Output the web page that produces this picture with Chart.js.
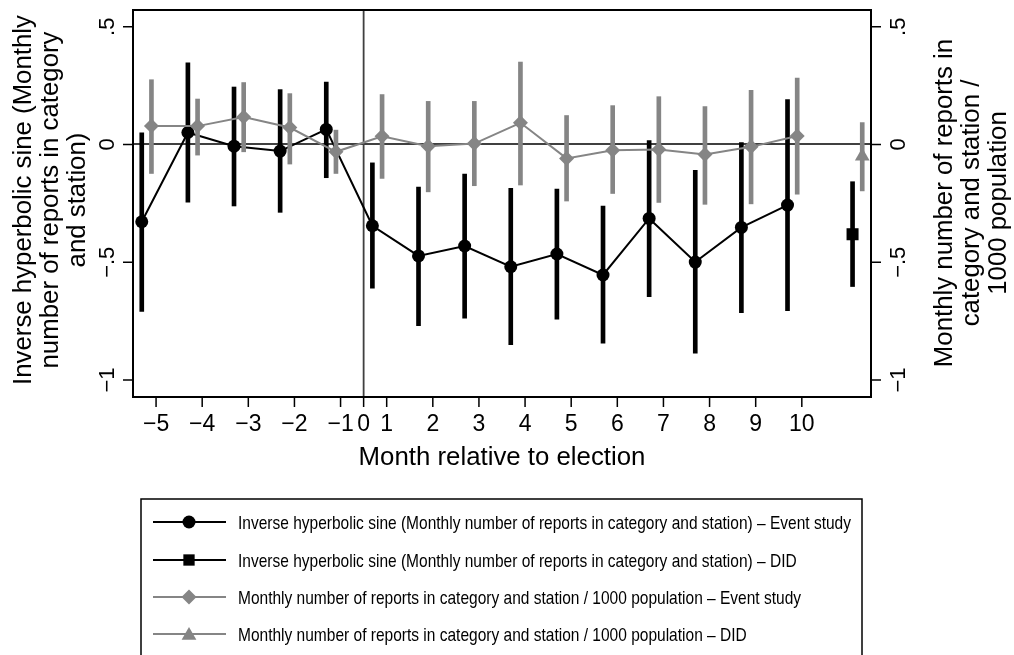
<!DOCTYPE html>
<html><head><meta charset="utf-8">
<script src="https://cdn.jsdelivr.net/npm/chart.js@4.4.1/dist/chart.umd.min.js"></script>
<style>html,body{margin:0;padding:0;background:#fff;overflow:hidden}#wrap{width:1014px;height:655px;position:relative}canvas{display:block}</style>
</head><body><div id="wrap"><canvas id="c" width="1014" height="655"></canvas></div>
<script>
// ---------------- data ----------------
const months = ['−5','−4','−3','−2','−1','1','2','3','4','5','6','7','8','9','10'];
const xTickValues = [1,2,3,4,5,5.5,6,7,8,9,10,11,12,13,14,15];
const xTickLabels = ['−5','−4','−3','−2','−1','0','1','2','3','4','5','6','7','8','9','10'];
const yTickValues = [-1,-0.5,0,0.5];
const yTickLabels = ['−1','−.5','0','.5'];

// Inverse hyperbolic sine – event study
const ihsCoef = [-0.328, 0.051, -0.007, -0.028, 0.064, -0.345, -0.473, -0.431, -0.519, -0.465, -0.554, -0.314, -0.499, -0.352, -0.257];
const ihsLo   = [-0.709,-0.245, -0.261, -0.288,-0.141, -0.610, -0.769, -0.737, -0.850, -0.742, -0.843, -0.646, -0.886, -0.714, -0.705];
const ihsHi   = [ 0.049, 0.347,  0.244,  0.233, 0.265, -0.078, -0.181, -0.126, -0.186, -0.189, -0.261,  0.017, -0.110,  0.008,  0.191];
// per 1000 population – event study
const popCoef = [ 0.079, 0.078,  0.117,  0.072,-0.031,  0.035, -0.007,  0.004,  0.092, -0.059, -0.024, -0.021, -0.042, -0.010,  0.036];
const popLo   = [-0.123,-0.045, -0.031, -0.083,-0.123, -0.144, -0.201, -0.175, -0.172, -0.240, -0.208, -0.246, -0.254, -0.252, -0.211];
const popHi   = [ 0.275, 0.193,  0.263,  0.216, 0.061,  0.212,  0.183,  0.183,  0.350,  0.123,  0.165,  0.203,  0.161,  0.230,  0.282];
// DID estimates [ihs, pop]
const didCoef = [-0.381, -0.050];
const didLo   = [-0.603, -0.197];
const didHi   = [-0.158,  0.093];

const legendLabels = [
  'Inverse hyperbolic sine (Monthly number of reports in category and station) – Event study',
  'Inverse hyperbolic sine (Monthly number of reports in category and station) – DID',
  'Monthly number of reports in category and station / 1000 population – Event study',
  'Monthly number of reports in category and station / 1000 population – DID'
];
const xTitle = 'Month relative to election';
const yTitle = ['Inverse hyperbolic sine (Monthly','number of reports in category','and station)'];
const y2Title = ['Monthly number of reports in','category and station /','1000 population'];

// ---------------- styling / layout ----------------
const FONT = '"Liberation Sans", Arial, Helvetica, sans-serif';
const BLACK = '#000000', GRAY = '#858585', REF = '#404040';
const OFF_IHS = -0.31, OFF_POP = -0.10;     // coefplot offsets
const DID_POS = 16, DID_OFF_IHS = 0.10, DID_OFF_POP = 0.31;
const REF_X = 5.5;
const AREA = {left:133, right:871, top:10, bottom:397};
const TICK_LEN = 10;

const ihsPts  = ihsCoef.map((v,i)=>({x:i+1+OFF_IHS, y:v}));
const ihsBars = ihsLo.map((lo,i)=>({x:i+1+OFF_IHS, y:[lo, ihsHi[i]]}));
const popPts  = popCoef.map((v,i)=>({x:i+1+OFF_POP, y:v}));
const popBars = popLo.map((lo,i)=>({x:i+1+OFF_POP, y:[lo, popHi[i]]}));

const setTicks = vals => (s => { s.ticks = vals.map(v=>({value:v})); });

const drawPlugin = {
  id:'stataLook',
  beforeDatasetsDraw(chart){
    const {ctx, chartArea:a, scales:{x,y}} = chart;
    ctx.save();
    ctx.strokeStyle = REF; ctx.lineWidth = 1.8;
    const py = Math.round(y.getPixelForValue(0));
    ctx.beginPath(); ctx.moveTo(a.left, py); ctx.lineTo(a.right, py); ctx.stroke();
    const px = x.getPixelForValue(REF_X);
    ctx.beginPath(); ctx.moveTo(px, a.top); ctx.lineTo(px, a.bottom); ctx.stroke();
    ctx.restore();
  },
  afterDraw(chart){
    const {ctx, chartArea:a, scales:{x,y,y2}} = chart;
    ctx.save();
    // frame
    ctx.strokeStyle = BLACK; ctx.lineWidth = 2;
    ctx.strokeRect(a.left, a.top, a.right-a.left, a.bottom-a.top);
    // tick marks
    ctx.lineWidth = 1.5;
    ctx.beginPath();
    xTickValues.forEach(v=>{ const p = x.getPixelForValue(v); ctx.moveTo(p, a.bottom); ctx.lineTo(p, a.bottom+TICK_LEN); });
    yTickValues.forEach(v=>{
      const p = y.getPixelForValue(v); ctx.moveTo(a.left, p); ctx.lineTo(a.left-TICK_LEN, p);
      const q = y2.getPixelForValue(v); ctx.moveTo(a.right, q); ctx.lineTo(a.right+TICK_LEN, q);
    });
    ctx.stroke();
    ctx.fillStyle = BLACK;
    // x tick labels
    ctx.font = '23px ' + FONT; ctx.textAlign='center'; ctx.textBaseline='alphabetic';
    xTickValues.forEach((v,i)=>ctx.fillText(xTickLabels[i], x.getPixelForValue(v), 431));
    // y tick labels (rotated)
    ctx.font = '22px ' + FONT;
    yTickValues.forEach((v,i)=>{
      [[y,114],[y2,905]].forEach(([sc,bx])=>{
        ctx.save(); ctx.translate(bx, sc.getPixelForValue(v)); ctx.rotate(-Math.PI/2);
        ctx.fillText(yTickLabels[i],0,0); ctx.restore();
      });
    });
    // titles
    ctx.font = '25.8px ' + FONT;
    ctx.fillText(xTitle, (a.left+a.right)/2, 465);
    yTitle.forEach((t,i)=>{ ctx.save(); ctx.translate(31+27*i, 200); ctx.rotate(-Math.PI/2); ctx.fillText(t,0,0); ctx.restore(); });
    y2Title.forEach((t,i)=>{ ctx.save(); ctx.translate(952+27*i, 203); ctx.rotate(-Math.PI/2); ctx.fillText(t,0,0); ctx.restore(); });
    // legend
    ctx.lineWidth = 1.5; ctx.strokeStyle = BLACK;
    ctx.strokeRect(141, 499, 721, 200);
    const rows = [522, 560, 597, 634];
    const styles = [
      {c:BLACK, ps:'circle', r:6.5},
      {c:BLACK, ps:'rect', r:8},
      {c:GRAY, ps:'rectRot', r:7.5},
      {c:GRAY, ps:'triangle', r:8.5}
    ];
    ctx.font = '19px ' + FONT; ctx.textAlign='left';
    const sx = 613 / ctx.measureText(legendLabels[0]).width;
    rows.forEach((ry,i)=>{
      const st = styles[i];
      ctx.strokeStyle = st.c; ctx.lineWidth = 2;
      ctx.beginPath(); ctx.moveTo(153, ry); ctx.lineTo(226, ry); ctx.stroke();
      ctx.fillStyle = st.c;
      Chart.helpers.drawPoint(ctx, {pointStyle:st.ps, radius:st.r, rotation:0, borderWidth:0}, 189, ry + (st.ps==='triangle'?1.5:0));
      ctx.fillStyle = BLACK;
      ctx.save(); ctx.translate(238, ry+7); ctx.scale(sx,1); ctx.fillText(legendLabels[i],0,0); ctx.restore();
    });
    ctx.restore();
  }
};

new Chart(document.getElementById('c'), {
  type:'line',
  data:{datasets:[
    {type:'bar', data:ihsBars, backgroundColor:BLACK, barThickness:4, grouped:false, order:6},
    {type:'line', data:ihsPts, borderColor:BLACK, borderWidth:2, pointStyle:'circle', pointRadius:6.5, pointBackgroundColor:BLACK, pointBorderWidth:0, order:5},
    {type:'bar', data:[{x:DID_POS+DID_OFF_IHS, y:[didLo[0], didHi[0]]}], backgroundColor:BLACK, barThickness:4, grouped:false, order:6},
    {type:'line', data:[{x:DID_POS+DID_OFF_IHS, y:didCoef[0]}], showLine:false, pointStyle:'rect', pointRadius:8.5, pointBackgroundColor:BLACK, pointBorderWidth:0, order:5},
    {type:'bar', data:popBars, backgroundColor:GRAY, barThickness:4, grouped:false, order:2},
    {type:'line', data:popPts, borderColor:GRAY, borderWidth:2, pointStyle:'rectRot', pointRadius:7.5, pointBackgroundColor:GRAY, pointBorderWidth:0, order:1},
    {type:'bar', data:[{x:DID_POS+DID_OFF_POP, y:[didLo[1], didHi[1]]}], backgroundColor:GRAY, barThickness:4, grouped:false, order:2},
    {type:'line', data:[{x:DID_POS+DID_OFF_POP, y:didCoef[1]}], showLine:false, pointStyle:'triangle', pointRadius:8.5, pointBackgroundColor:GRAY, pointBorderWidth:0, order:1}
  ]},
  options:{
    responsive:false, animation:false, events:[],
    layout:{padding:{top:AREA.top, left:0, right:0, bottom:0}},
    plugins:{legend:{display:false}, tooltip:{enabled:false}},
    scales:{
      x:{type:'linear', position:'bottom', min:0.5, max:16.5, offset:false,
         afterBuildTicks:setTicks(xTickValues), afterFit(s){ s.height = 655-AREA.bottom; },
         ticks:{display:false}, grid:{display:false}, border:{display:false}},
      y:{type:'linear', position:'left', min:-1.072, max:0.571,
         afterBuildTicks:setTicks(yTickValues), afterFit(s){ s.width = AREA.left; },
         ticks:{display:false}, grid:{display:false}, border:{display:false}},
      y2:{type:'linear', position:'right', min:-1.072, max:0.571,
         afterBuildTicks:setTicks(yTickValues), afterFit(s){ s.width = 1014-AREA.right; },
         ticks:{display:false}, grid:{display:false}, border:{display:false}}
    }
  },
  plugins:[drawPlugin]
});
</script>
</body></html>
